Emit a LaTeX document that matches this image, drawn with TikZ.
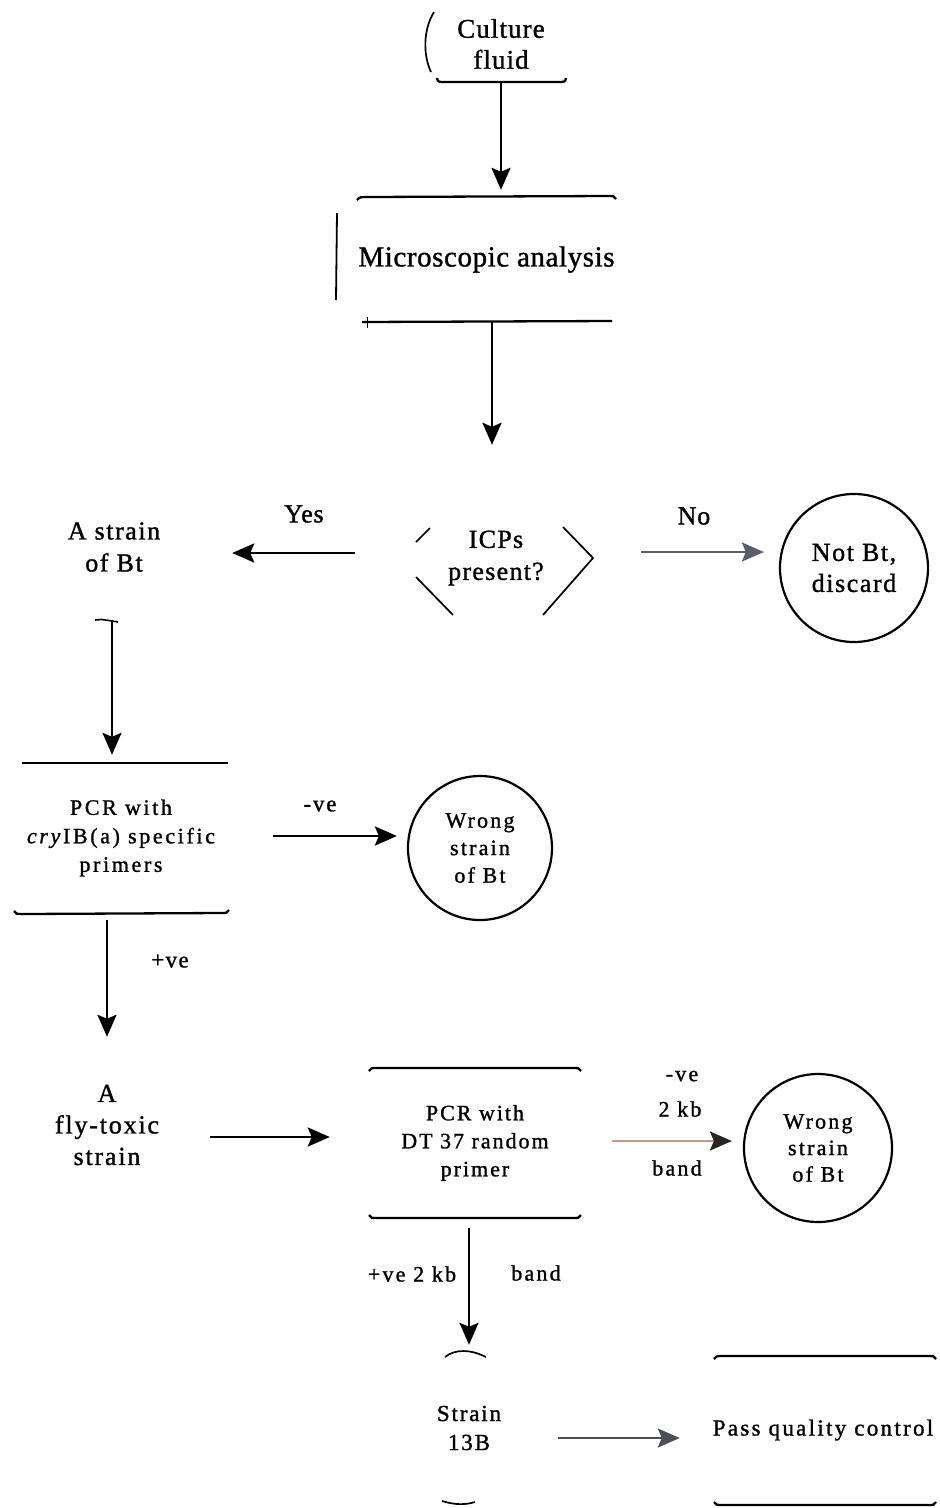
\documentclass[tikz,border=0pt]{standalone}
\usepackage{fontspec}
\setmainfont{Liberation Serif}
\usetikzlibrary{arrows.meta,calc}
\newcommand\myfs[3]{\fontsize{#1}{#2}\selectfont\addfontfeature{LetterSpace=#3,FakeBold=1.2}}
\definecolor{nogray}{HTML}{5A5F6B}
\definecolor{qcgray}{HTML}{4B4F59}
\definecolor{bandbrown}{HTML}{C49A8A}
\begin{document}
\begin{tikzpicture}[x=1pt,y=-1pt,
  box/.style 2 args={inner sep=0pt,align=center,minimum width=#1,minimum height=#2},
  lbl/.style={inner sep=0pt,align=center},
  arr/.style={line width=2.8pt,-{Stealth[length=22pt,width=19pt,inset=4pt]}},
  edgeline/.style={line width=2.3pt},
  thinline/.style={line width=1.7pt},
  circ/.style={circle,draw,line width=2.2pt,minimum size=148pt,inner sep=0pt,align=center}]
\useasboundingbox (0,0) rectangle (940,1508);

% nodes
\node[box={132}{74},font={\myfs{27}{31}{4}}] (culture) at (501,44) {Culture\\fluid};
\node[box={257}{125},font={\myfs{29}{34}{2}}] (micro) at (486.5,259.5) {Microscopic analysis};
\node[box={194}{116},font={\myfs{26}{32}{5}}] (icp) at (496,558) {ICPs\\present?};
\node[box={130}{60},font={\myfs{26}{32}{6}}] (strain) at (114,547) {A strain\\of Bt};
\node[circ,font={\myfs{26}{31}{6}}] (notbt) at (854,568) {Not Bt,\\discard};
\node[box={214}{150},font={\myfs{22}{28.5}{12}}] (pcr1) at (121,838) {PCR with\\\textit{cry}IB(a) specific\\primers};
\node[circ,minimum size=144pt,font={\myfs{22}{27.5}{10}}] (wrong1) at (480,848) {Wrong\\strain\\of Bt};
\node[box={120}{100},font={\myfs{26}{31.5}{7}}] (flytox) at (107,1125) {A\\fly-toxic\\strain};
\node[box={210}{150},font={\myfs{22}{28}{9}}] (pcr2) at (475,1143) {PCR with\\DT 37 random\\primer};
\node[circ,font={\myfs{22}{26.5}{10}}] (wrong2) at (818,1148) {Wrong\\strain\\of Bt};
\node[box={80}{150},font={\myfs{23}{29}{8}}] (s13) at (469,1428) {Strain\\13B};
\node[box={226}{149},font={\myfs{23}{28}{10}}] (pass) at (823,1430) {Pass quality control};

% labels
\node[lbl,font={\myfs{26}{30}{3}}] (yes) at (304,514) {Yes};
\node[lbl,font={\myfs{26}{30}{3}}] (no) at (694,516) {No};
\node[lbl,font={\myfs{23}{26}{8}}] (neg1) at (320,806) {-ve};
\node[lbl,font={\myfs{23}{26}{6}}] (pos1) at (170,961) {+ve};
\node[lbl,font={\myfs{22}{26}{10}}] (neg2) at (682,1076) {-ve};
\node[lbl,font={\myfs{22}{26}{10}}] (neg2kb) at (680,1109) {2 kb};
\node[lbl,font={\myfs{22}{26}{10}}] (neg2band) at (677,1168) {band};
\node[lbl,font={\myfs{22}{26}{10}}] (pos2) at (412,1274) {+ve 2 kb};
\node[lbl,font={\myfs{22}{26}{10}}] (pos2band) at (536,1273) {band};

% partial outlines
\draw[thinline] (434,12) .. controls (423,30) and (423,55) .. (431,72);
\draw[edgeline] (437,78) .. controls (438,82) .. (445,82) -- (558,82) .. controls (565,82) .. (566,78);
\draw[edgeline] (357,200) .. controls (360,197) .. (368,197) -- (608,196) .. controls (614,196) .. (616,199);
\draw[line width=1.8pt] (337,213) -- (336,300);
\draw[edgeline] (362,322) -- (612,321);
\draw[line width=1pt] (367,317) -- (367,328);
\draw[thinline] (416,542) -- (430,528);
\draw[thinline] (416,577) -- (453,615);
\draw[thinline] (563,527) -- (593,558) -- (543,615);
\draw[line width=1.6pt] (95,620) .. controls (100,619) .. (118,622);
\draw[edgeline] (22,763) -- (228,763);
\draw[edgeline] (14,911) .. controls (16,914) .. (24,914) -- (220,913) .. controls (227,913) .. (229,910);
\draw[edgeline] (369,1071) .. controls (371,1068) .. (378,1068) -- (572,1068) .. controls (579,1068) .. (581,1071);
\draw[edgeline] (369,1215) .. controls (371,1218) .. (378,1218) -- (572,1218) .. controls (579,1218) .. (581,1215);
\draw[thinline] (445,1357) .. controls (455,1349) and (470,1349) .. (486,1357);
\draw[thinline] (442,1501) .. controls (455,1505) and (465,1505) .. (475,1502);
\draw[edgeline] (714,1359) .. controls (716,1356) .. (724,1356) -- (928,1356) .. controls (934,1356) .. (936,1359);
\draw[edgeline] (714,1502) .. controls (716,1505) .. (724,1505) -- (928,1505) .. controls (934,1505) .. (936,1502);

% connectors
\draw[arr,shorten >=7pt] (culture.south) -- (culture.south |- micro.north);
\draw[arr,shorten >=55pt] ([xshift=5.5pt]micro.south) -- ([xshift=5.5pt]micro.south |- icp.north);
\draw[arr,shorten <=44pt,shorten >=53pt] ([yshift=5pt]icp.west) -- ([yshift=5pt]icp.west -| strain.east);
\draw[draw=nogray,line width=2.4pt,-{Stealth[length=22pt,width=19pt,inset=4pt,color=nogray]},shorten <=48pt,shorten >=15pt] ([yshift=6pt]icp.east) -- ([yshift=6pt]icp.east -| notbt.west);
\draw[arr,shorten <=43pt,shorten >=8pt] ([xshift=-2pt]strain.south) -- ([xshift=-2pt]strain.south |- pcr1.north);
\draw[arr,shorten <=45pt,shorten >=10pt] ([yshift=2pt]pcr1.east) -- ([yshift=2pt]pcr1.east -| wrong1.west);
\draw[arr,shorten <=7pt,shorten >=38pt] ([xshift=-14pt]pcr1.south) -- ([xshift=-14pt]pcr1.south |- flytox.north);
\draw[arr,shorten <=43pt,shorten >=40pt] ([yshift=-12pt]flytox.east) -- ([yshift=-12pt]flytox.east -| pcr2.west);
\draw[line width=2.4pt,draw=bandbrown,-{Stealth[length=22pt,width=19pt,inset=4pt,color=black!85]},shorten <=32pt,shorten >=11pt] ([yshift=2pt]pcr2.east) -- ([yshift=2pt]pcr2.east -| wrong2.west);
\draw[arr,shorten <=10pt,shorten >=8pt] (pcr2.south -| s13.north) -- (s13.north);
\draw[line width=2.4pt,draw=qcgray,-{Stealth[length=22pt,width=19pt,inset=4pt,color=qcgray]},shorten <=49pt,shorten >=30pt] ([yshift=-10pt]s13.east) -- ([yshift=-10pt]s13.east -| pass.west);
\end{tikzpicture}
\end{document}
